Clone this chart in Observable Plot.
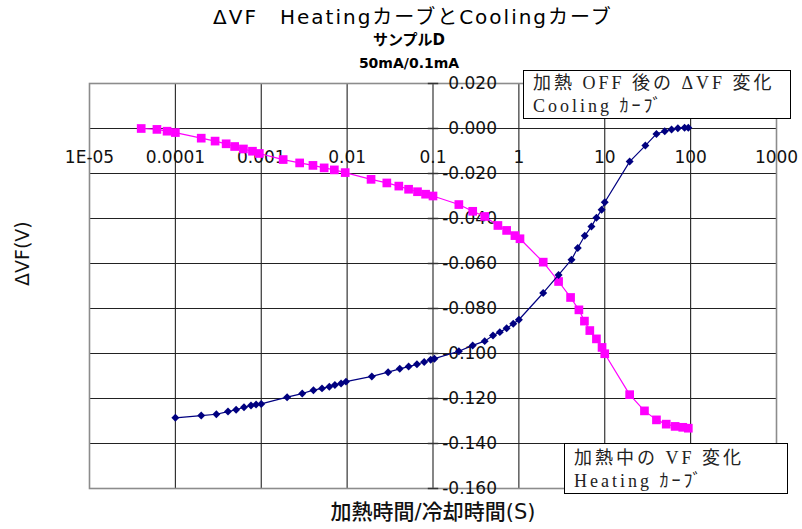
<!DOCTYPE html>
<html>
<head>
<meta charset="utf-8">
<script src="https://cdn.jsdelivr.net/npm/d3@7"></script>
<script src="https://cdn.jsdelivr.net/npm/@observablehq/plot@0.6"></script>
<style>
  body { margin: 0; background: #fff; }
  #wrap { position: relative; width: 802px; height: 529px; overflow: hidden; background: #fff; }
  .t { position: absolute; left: 0; width: 826px; text-align: center; color: #000; white-space: nowrap;
       font-family: "DejaVu Sans", "Noto Sans CJK JP", sans-serif; }
  .box { position: absolute; background: #fff; border: 1.5px solid #000; box-sizing: border-box;
         font-family: "Liberation Serif", "Noto Sans CJK JP", serif; color: #222; letter-spacing: 3px;
         padding-left: 9px; white-space: nowrap; }
  .box div { height: 23px; line-height: 23px; font-size: 18px; }
</style>
</head>
<body>
<div id="wrap"></div>
<script>
// ---- data ----
const decades = [1e-5, 1e-4, 1e-3, 1e-2, 1e-1, 1, 10, 100, 1000];
const xTickLabels = ["1E-05", "0.0001", "0.001", "0.01", "0.1", "1", "10", "100", "1000"];
const yTicks = [0.02, 0, -0.02, -0.04, -0.06, -0.08, -0.1, -0.12, -0.14, -0.16];
const yTickLabels = ["0.020", "0.000", "-0.020", "-0.040", "-0.060", "-0.080", "-0.100", "-0.120", "-0.140", "-0.160"];
const yAxisCross = 0.1;   // value axis crosses the time axis at t = 0.1
const xAxisCross = 0;     // time axis crosses the value axis at ΔVF = 0

// Heating curve (加熱中の VF 変化)
const heatT = [4e-5, 6.1e-5, 8e-5, 1e-4, 2e-4, 2.9e-4, 3.9e-4, 4.9e-4, 6.2e-4, 7.9e-4, 9.5e-4,
  1.8e-3, 2.8e-3, 4e-3, 5.4e-3, 7.1e-3, 9.5e-3, 0.019, 0.029, 0.04, 0.052, 0.066, 0.082, 0.1,
  0.2, 0.29, 0.4, 0.57, 0.72, 0.9, 1.03, 1.92, 2.9, 4, 5, 5.8, 6.7, 8, 9.3, 10,
  19.5, 29, 40, 52, 66, 81, 94];
const heatV = [0.0, -0.0004, -0.0012, -0.0018, -0.0043, -0.0056, -0.0068, -0.008, -0.0091, -0.0101, -0.0111,
  -0.0138, -0.0153, -0.0164, -0.0175, -0.0184, -0.0196, -0.0226, -0.0242, -0.0256, -0.027, -0.0281, -0.0292, -0.030,
  -0.0338, -0.0368, -0.0391, -0.0431, -0.0453, -0.0476, -0.049, -0.0594, -0.068, -0.0751, -0.0806, -0.0856, -0.0898, -0.0935, -0.0973, -0.1001,
  -0.1183, -0.1255, -0.1295, -0.1314, -0.1324, -0.1328, -0.1332];

// Cooling curve (加熱 OFF 後の ΔVF 変化)
const coolT = [1e-4, 2e-4, 3e-4, 4.1e-4, 5.1e-4, 6.3e-4, 7.6e-4, 8.7e-4, 1e-3,
  2e-3, 3e-3, 4.05e-3, 5.1e-3, 6.2e-3, 7.2e-3, 8.5e-3, 0.0097,
  0.0194, 0.03, 0.041, 0.052, 0.065, 0.079, 0.094, 0.104,
  0.2, 0.29, 0.4, 0.5, 0.6, 0.72, 0.86, 1.0,
  1.92, 2.9, 4.1, 4.85, 5.85, 7, 8, 9.2, 10,
  19.5, 29.7, 40, 50, 60, 71, 85, 94];
const coolV = [-0.1286, -0.1276, -0.127, -0.1258, -0.125, -0.1239, -0.1231, -0.1227, -0.1224,
  -0.1194, -0.1178, -0.1163, -0.1155, -0.1148, -0.114, -0.1133, -0.1125,
  -0.1102, -0.1083, -0.1068, -0.1058, -0.1048, -0.1038, -0.1028, -0.1023,
  -0.099, -0.0964, -0.0945, -0.092, -0.0905, -0.0888, -0.0868, -0.085,
  -0.0731, -0.0651, -0.0583, -0.0531, -0.0477, -0.0436, -0.0397, -0.0361, -0.0328,
  -0.0147, -0.0076, -0.0024, -0.0012, -0.0004, 0.0001, 0.0003, 0.0003];

const heating = heatT.map((t, i) => ({t, v: heatV[i]}));
const cooling = coolT.map((t, i) => ({t, v: coolV[i]}));
const innerDecades = decades.slice(1, -1);
const innerY = yTicks.slice(1, -1);
const axisFont = `"DejaVu Sans", "Noto Sans CJK JP", sans-serif`;

const chart = Plot.plot({
  width: 802,
  height: 529,
  marginLeft: 89,
  marginRight: 26,
  marginTop: 83,
  marginBottom: 41,
  style: {fontFamily: axisFont, background: "#fff", color: "#111"},
  x: {type: "log", domain: [1e-5, 1000], axis: null},
  y: {domain: [-0.16, 0.02], axis: null},
  marks: [
    Plot.ruleX(innerDecades, {x: d => d, stroke: "#222", strokeWidth: 1.1}),
    Plot.ruleY(innerY, {y: d => d, stroke: "#222", strokeWidth: 1.1}),
    Plot.frame({stroke: "#8c8c8c", strokeWidth: 1.6}),
    // value-axis tick marks crossing the axis at t = 0.1
    Plot.link(yTicks, {x1: () => yAxisCross / 1.15, x2: () => yAxisCross * 1.15, y1: d => d, y2: d => d, stroke: "#333", strokeWidth: 1.5}),
    // value-axis labels
    Plot.text(yTicks, {x: () => yAxisCross, y: d => d, text: (d, i) => yTickLabels[i], textAnchor: "end", dx: 64,
      fontSize: 17, fill: "#111", style: "letter-spacing:1px"}),
    // time-axis labels
    Plot.text(decades, {x: d => d, y: () => xAxisCross, text: (d, i) => xTickLabels[i], dy: 29,
      fontSize: 17, fill: "#111", style: "letter-spacing:1px"}),
    // axis titles
    Plot.text(["ΔVF(V)"], {frameAnchor: "left", dx: -67, rotate: -90, fontSize: 19, fill: "#111"}),
    Plot.text(["加熱時間/冷却時間(S)"], {frameAnchor: "bottom", dy: 30, fontSize: 21, fontWeight: 500, fill: "#111", style: "letter-spacing:4px"}),
    // heating series
    Plot.line(heating, {x: "t", y: "v", stroke: "#ff00ff", strokeWidth: 1.2}),
    Plot.dot(heating, {x: "t", y: "v", symbol: "square", r: 4.9, fill: "#ff00ff", stroke: "none"}),
    // cooling series
    Plot.line(cooling, {x: "t", y: "v", stroke: "#000080", strokeWidth: 1.2}),
    Plot.dot(cooling, {x: "t", y: "v", symbol: "diamond2", r: 3.6, fill: "#000080", stroke: "none"})
  ]
});

const wrap = document.getElementById("wrap");
wrap.appendChild(chart);

function addText(cls, text, css) {
  const d = document.createElement("div");
  d.className = cls;
  d.textContent = text;
  Object.assign(d.style, css);
  wrap.appendChild(d);
  return d;
}
addText("t", "ΔVF　HeatingカーブとCoolingカーブ", {top: "5px", fontSize: "20px", lineHeight: "24px", letterSpacing: "2px"});
addText("t", "サンプルD", {top: "31px", fontSize: "15px", lineHeight: "18px", fontWeight: "bold", width: "818px"});
addText("t", "50mA/0.1mA", {top: "54px", fontSize: "14px", lineHeight: "18px", fontWeight: "bold", width: "818px"});

function addBox(lines, css) {
  const b = document.createElement("div");
  b.className = "box";
  Object.assign(b.style, css);
  for (const l of lines) {
    const d = document.createElement("div");
    d.textContent = l;
    b.appendChild(d);
  }
  wrap.appendChild(b);
}
addBox(["加熱 OFF 後の ΔVF 変化", "Cooling ｶｰﾌﾞ"], {left: "523px", top: "70px", width: "268px", height: "49px", paddingTop: "1px"});
addBox(["加熱中の VF 変化", "Heating ｶｰﾌﾞ"], {left: "564px", top: "443px", width: "224px", height: "51px", paddingTop: "3px"});
</script>
</body>
</html>
